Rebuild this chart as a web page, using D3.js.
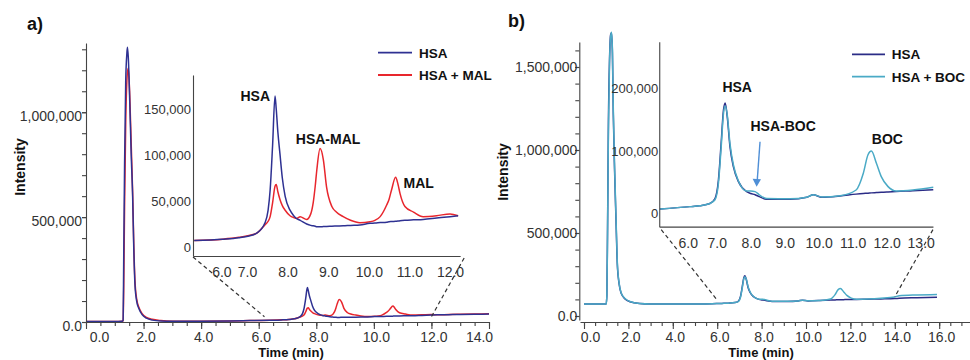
<!DOCTYPE html>
<html>
<head>
<meta charset="utf-8">
<script src="https://cdn.jsdelivr.net/npm/d3@7"></script>
<style>
  body { margin: 0; background: #fff; }
  svg { display: block; font-family: "Liberation Sans", Arial, sans-serif; }
</style>
</head>
<body>
<svg id="chart" width="970" height="360"></svg>
<script>
// ---- panel a: HSA vs HSA + MAL (time in min, intensity in thousands)
const timeA = [0, 1.0, 1.25, 1.29, 1.31, 1.34, 1.38, 1.42, 1.44, 1.47, 1.52, 1.57, 1.62, 1.66, 1.70, 1.76, 1.85, 1.95, 2.1, 2.3,
  2.6, 3.0, 4.0, 5.0, 5.7, 6.4, 6.8, 7.05, 7.24, 7.44, 7.52, 7.57, 7.63, 7.69, 7.72, 7.76, 7.81, 7.87, 7.94, 8.06,
  8.15, 8.22, 8.31, 8.47, 8.57, 8.63, 8.68, 8.72, 8.80, 8.88, 8.96, 9.09, 9.2, 9.37, 9.55, 9.78, 10.03, 10.15, 10.28, 10.44,
  10.5, 10.56, 10.66, 10.72, 10.77, 10.89, 11.10, 11.34, 11.67, 12.0, 12.2, 12.6, 13.0, 13.5, 14.0];
const hsaA = [2, 2, 3, 8, 300, 750, 1150, 1280, 1310, 1260, 1050, 800, 600, 350, 180, 100, 60, 35, 18, 9,
  5, 4, 4, 5, 7, 8.4, 10, 12, 15, 26, 40, 62, 110, 164, 150, 125, 102, 75, 55, 40,
  34, 31, 29, 25, 23.5, 23, 22.5, 22, 22, 22.2, 22.4, 22.6, 22.8, 23, 23.5, 24, 25.7, 26, 26.5, 27,
  27.5, 27.7, 28, 28.2, 28.5, 29, 29.5, 30, 31.5, 33, 34, 35, 36, 37, 38];
const hsaMalA = [2, 2, 3, 4, 150, 550, 950, 1150, 1190, 1210, 1080, 850, 620, 370, 200, 110, 65, 40, 22, 13,
  7, 4, 4, 5, 7, 8.5, 10.5, 12.5, 15, 24, 28, 33, 48, 66, 68, 60, 52, 45, 40, 34,
  32, 31, 33, 30, 36, 48, 66, 84, 107, 95, 65, 44, 38, 33, 29, 26.4, 27.5, 29, 33, 45.6,
  52, 62, 75.7, 68, 58, 44, 38, 33, 34, 36, 34, 36, 37, 38, 39];

// ---- panel b: HSA vs HSA + BOC
const timeB = [0, 1.0, 1.03, 1.06, 1.10, 1.15, 1.20, 1.24, 1.28, 1.32, 1.38, 1.44, 1.50, 1.58, 1.68, 1.85, 2.07, 2.5, 3.0, 4.0,
  5.33, 6.21, 6.5, 6.8, 6.95, 7.05, 7.13, 7.2, 7.25, 7.31, 7.39, 7.49, 7.64, 7.88, 8.0, 8.13, 8.25, 8.47, 9.16, 9.65,
  9.84, 10.09, 10.63, 11.1, 11.31, 11.45, 11.55, 11.7, 11.84, 12.04, 12.28, 12.77, 13.37, 14.0, 14.2, 15.0, 15.9];
const hsaB = [7, 7, 60, 450, 1100, 1480, 1630, 1640, 1520, 1150, 800, 520, 250, 130, 70, 38, 21, 10, 7, 7,
  7.2, 11, 12.5, 16, 24, 53, 112, 166, 177, 155, 107, 75, 51, 35, 32, 30, 27, 23, 23, 26,
  30, 26, 28, 31, 32, 32.5, 33, 33.5, 34, 34.5, 35, 36.5, 38, 40, 42, 45, 48];
const hsaBocB = [7, 7, 55, 420, 1050, 1460, 1620, 1645, 1540, 1180, 820, 540, 260, 135, 72, 40, 22, 10, 7, 7,
  7.2, 11, 12.5, 16, 22, 48, 105, 160, 172, 158, 112, 78, 52, 36, 36, 35, 30, 24, 23.5, 26,
  30, 26.5, 28.5, 37.6, 64, 94, 100, 80, 59, 43, 36, 37.6, 42, 50, 57, 62, 65];
const offsetB = 65; // the full trace in b sits on a raised baseline

// ---- ticks
const xTicksA = [0, 2, 4, 6, 8, 10, 12, 14];
const yTicksA = [0, 500, 1000];
const insetXTicksA = [6, 7, 8, 9, 10, 11, 12];
const insetYTicksA = [0, 50, 100, 150];
const xTicksB = [0, 2, 4, 6, 8, 10, 12, 14, 16];
const yTicksB = [0, 500, 1000, 1500];
const insetXTicksB = [6, 7, 8, 9, 10, 11, 12, 13];
const insetYTicksB = [0, 100, 200];

const zoomA = [6.2, 12.0];
const zoomB = [6.0, 14.0];

const colors = { hsaA: '#2e3192', mal: '#e8262d', hsaB: '#2b2c86', boc: '#4aaac6' };

const svg = d3.select('#chart');
const fmtTime = d3.format('.1f');
const fmtInt = d3.format(',');

// copy of a scale stretched over another domain (used for axis lines)
function span(scale, dom) {
  return scale.copy().domain(dom).range(dom.map(scale));
}

function trace(x, y, off) {
  return d3.line()
    .x(d => x(d[0]))
    .y(d => y(d[1] + (off || 0)))
    .curve(d3.curveMonotoneX);
}

function styleAxis(g, size) {
  g.attr('font-family', null).attr('font-size', size);
  g.selectAll('path, line').attr('stroke', '#444').attr('stroke-width', 1.1);
  g.selectAll('text').attr('fill', '#333');
  return g;
}

function drawLine(pts, line, color, w) {
  svg.append('path')
    .datum(pts)
    .attr('fill', 'none')
    .attr('stroke', color)
    .attr('stroke-width', w || 1.5)
    .attr('stroke-linejoin', 'round')
    .attr('d', line);
}

function dashed(p0, p1) {
  svg.append('line')
    .attr('x1', p0[0]).attr('y1', p0[1])
    .attr('x2', p1[0]).attr('y2', p1[1])
    .attr('stroke', '#333')
    .attr('stroke-width', 1.2)
    .attr('stroke-dasharray', '4,3');
}

function label(x, y, txt, size, anchor) {
  return svg.append('text')
    .attr('x', x).attr('y', y)
    .attr('text-anchor', anchor || 'start')
    .attr('font-weight', 'bold')
    .attr('font-size', size)
    .attr('fill', '#111')
    .text(txt);
}

// ================= panel a =================
const xA = d3.scaleLinear().domain([0, 14]).range([86, 489]);
const yA = d3.scaleLinear().domain([0, 1330]).range([322, 43]);
const xInA = d3.scaleLinear().domain([7, 12]).range([247, 450]);
const yInA = d3.scaleLinear().domain([0, 150]).range([247, 109]);
const inDomA = [5.67, 12.25];
const inValA = [-9.8, 187];

const malPts = d3.zip(timeA, hsaMalA);
const hsaPtsA = d3.zip(timeA, hsaA);
const inA = d => d[0] >= 5.6 && d[0] <= inDomA[1];

drawLine(malPts, trace(xA, yA), colors.mal);
drawLine(hsaPtsA, trace(xA, yA), colors.hsaA);
drawLine(malPts.filter(inA), trace(xInA, yInA), colors.mal);
drawLine(hsaPtsA.filter(inA), trace(xInA, yInA), colors.hsaA);

// main axes
styleAxis(svg.append('g').attr('transform', `translate(0,${yA(0)})`)
  .call(d3.axisBottom(xA).tickValues(d3.range(0, 14.01, 0.5)).tickSize(4).tickSizeOuter(0).tickFormat('')), 14);
const xlA = styleAxis(svg.append('g').attr('transform', `translate(0,${yA(0)})`)
  .call(d3.axisBottom(xA).tickValues(xTicksA).tickSize(7).tickPadding(3).tickFormat(fmtTime)), 14);
xlA.select('.domain').remove();
xlA.selectAll('.tick text').attr('dx', d => d === 0 ? 13 : (d === 14 ? -10 : 2));

styleAxis(svg.append('g').attr('transform', `translate(${xA(0)},0)`)
  .call(d3.axisLeft(yA).tickValues(d3.range(0, 1301, 100)).tickSize(4).tickSizeOuter(0).tickFormat('')), 14);
const ylA = styleAxis(svg.append('g').attr('transform', `translate(${xA(0)},0)`)
  .call(d3.axisLeft(yA).tickValues(yTicksA).tickSize(4).tickPadding(0)
    .tickFormat(v => v ? fmtInt(v * 1000) : '0.0')), 14);
ylA.select('.domain').remove();
ylA.selectAll('.tick text').attr('dy', '0.62em');

// inset axes
const inAxA = styleAxis(svg.append('g').attr('transform', `translate(0,${yInA(inValA[0])})`)
  .call(d3.axisBottom(span(xInA, inDomA)).tickValues(insetXTicksA).tickSize(0).tickSizeOuter(0)
    .tickPadding(11).tickFormat(fmtTime)), 14);
inAxA.selectAll('.tick text').attr('dx', d => d === 6 ? 15 : 0);
styleAxis(svg.append('g').attr('transform', `translate(${xInA(inDomA[0])},0)`)
  .call(d3.axisLeft(span(yInA, inValA)).tickValues(insetYTicksA).tickSize(0).tickSizeOuter(0)
    .tickPadding(2).tickFormat(v => v ? fmtInt(v * 1000) : '0')), 13);

dashed([xInA(inDomA[0]), yInA(inValA[0]) + 1], [xA(zoomA[0]), yA(25)]);
dashed([xInA(inDomA[1]) + 4, yInA(inValA[0]) + 2], [xA(zoomA[1]), yA(25)]);

// peak names
label(xInA(7.69) - 5, yInA(164) + 5, 'HSA', 14, 'end');
label(xInA(8.8) + 8, yInA(107) - 5, 'HSA-MAL', 14, 'middle');
label(xInA(10.66) + 8, yInA(75.7) + 11, 'MAL', 14, 'start');

// legend
[['HSA', colors.hsaA], ['HSA + MAL', colors.mal]].forEach((s, i) => {
  const ly = 52.7 + i * 22.3;
  svg.append('line').attr('x1', 378).attr('x2', 412).attr('y1', ly).attr('y2', ly)
    .attr('stroke', s[1]).attr('stroke-width', 1.8);
  label(419, ly + 5, s[0], 13.5);
});

label(27, 30, 'a)', 18);
label(291, 357.2, 'Time (min)', 13, 'middle');
label(0, 0, 'Intensity', 14, 'middle').attr('transform', 'translate(25,167) rotate(-90)');

// ================= panel b =================
const xB = d3.scaleLinear().domain([0, 16]).range([584, 939.2]);
const yB = d3.scaleLinear().domain([0, 1650]).range([316, 42.1]);
const xInB = d3.scaleLinear().domain([7, 13]).range([716.7, 920.7]);
const yInB = d3.scaleLinear().domain([0, 200]).range([213.5, 88.5]);
const inDomB = [5.31, 13.36];
const inValB = [-21, 275];
const xAxisYB = 322;

const hsaPtsB = d3.zip(timeB, hsaB);
const bocPts = d3.zip(timeB, hsaBocB);
const inB = d => d[0] >= 5.33 && d[0] <= 13.37;

drawLine(hsaPtsB, trace(xB, yB, offsetB), colors.hsaB);
drawLine(bocPts, trace(xB, yB, offsetB), colors.boc);
drawLine(hsaPtsB.filter(inB), trace(xInB, yInB), colors.hsaB);
drawLine(bocPts.filter(inB), trace(xInB, yInB), colors.boc);

styleAxis(svg.append('g').attr('transform', `translate(0,${xAxisYB})`)
  .call(d3.axisBottom(span(xB, [-0.18, 17.5])).tickValues(d3.range(0, 17.51, 0.5)).tickSize(4)
    .tickSizeOuter(0).tickFormat('')), 14);
const xlB = styleAxis(svg.append('g').attr('transform', `translate(0,${xAxisYB})`)
  .call(d3.axisBottom(xB).tickValues(xTicksB).tickSize(7).tickPadding(3).tickFormat(fmtTime)), 14);
xlB.select('.domain').remove();
xlB.selectAll('.tick text').attr('dx', d => d === 0 ? 6 : 2);

styleAxis(svg.append('g').attr('transform', `translate(579.3,0)`)
  .call(d3.axisLeft(span(yB, [-24, 1650])).tickValues(d3.range(0, 1601, 100)).tickSize(4)
    .tickSizeOuter(0).tickFormat('')), 14);
const ylB = styleAxis(svg.append('g').attr('transform', `translate(579.3,0)`)
  .call(d3.axisLeft(yB).tickValues(yTicksB).tickSize(4).tickPadding(-2)
    .tickFormat(v => v ? fmtInt(v * 1000) : '0.0')), 14);
ylB.select('.domain').remove();

const inAxB = styleAxis(svg.append('g').attr('transform', `translate(0,${yInB(inValB[0])})`)
  .call(d3.axisBottom(span(xInB, inDomB)).tickValues(insetXTicksB).tickSize(0).tickSizeOuter(0)
    .tickPadding(11).tickFormat(fmtTime)), 14);
inAxB.selectAll('.tick text').attr('dx', d => d === 6 ? 5 : 0);
styleAxis(svg.append('g').attr('transform', `translate(${xInB(inDomB[0])},0)`)
  .call(d3.axisLeft(span(yInB, inValB)).tickValues(insetYTicksB).tickSize(0).tickSizeOuter(0)
    .tickPadding(1).tickFormat(v => v ? fmtInt(v * 1000) : '0')), 13);

dashed([xInB(inDomB[0]) + 2, yInB(inValB[0]) + 3], [xB(zoomB[0]), yB(96)]);
dashed([xInB(inDomB[1]), yInB(inValB[0]) + 3], [xB(zoomB[1]), yB(116)]);

label(xInB(7.25) + 12, yInB(177) - 11, 'HSA', 14, 'middle');
label(xInB(8.13) + 28, yInB(177) + 28, 'HSA-BOC', 14, 'middle');
label(xInB(11.55) + 16, yInB(100) - 7.5, 'BOC', 14, 'middle');

// arrow to the HSA-BOC bump
const tip = [xInB(8.13) + 1.5, yInB(35) - 5];
svg.append('line').attr('x1', tip[0] + 3.4).attr('y1', 141.7).attr('x2', tip[0] + 0.6).attr('y2', tip[1] - 6)
  .attr('stroke', '#4f8fd6').attr('stroke-width', 1.4);
svg.append('path')
  .attr('d', `M${tip[0]},${tip[1]} L${tip[0] - 4},${tip[1] - 8} L${tip[0] + 4.4},${tip[1] - 7.5} Z`)
  .attr('fill', '#4f8fd6');

[['HSA', colors.hsaB], ['HSA + BOC', colors.boc]].forEach((s, i) => {
  const ly = 54.3 + i * 22.4;
  svg.append('line').attr('x1', 852).attr('x2', 885).attr('y1', ly).attr('y2', ly)
    .attr('stroke', s[1]).attr('stroke-width', 1.8);
  label(891.7, ly + 5, s[0], 13.5);
});

label(508, 27, 'b)', 18);
label(761, 357.2, 'Time (min)', 13, 'middle');
label(0, 0, 'Intensity', 14, 'middle').attr('transform', 'translate(508,172) rotate(-90)');
</script>
</body>
</html>
